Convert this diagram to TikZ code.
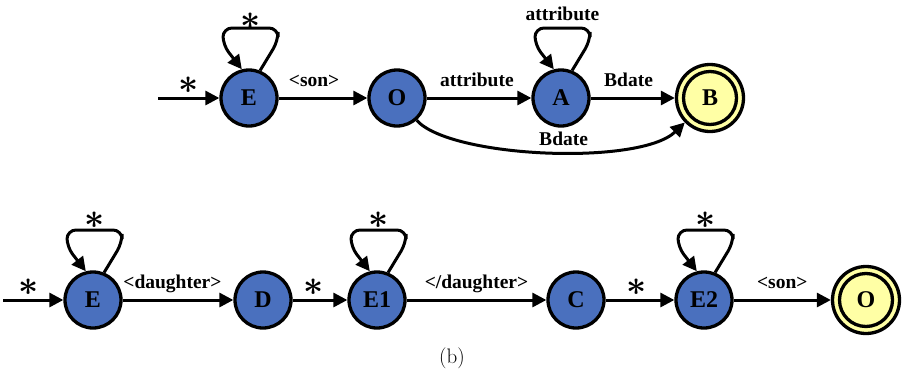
\documentclass[tikz,border=0pt]{standalone}
\usepackage{fontspec}
\newfontfamily\tnr{Liberation Serif}
\usetikzlibrary{arrows.meta,calc}
\definecolor{nodeblue}{RGB}{74,112,190}
\definecolor{nodeyellow}{RGB}{255,255,165}
\tikzset{
  st/.style={circle, draw, line width=3.3pt, fill=nodeblue, minimum size=56pt, inner sep=0pt,
    font=\tnr\bfseries\fontsize{24}{24}\selectfont},
  fin/.style={circle, draw, line width=3.3pt, fill=nodeyellow, minimum size=67pt, inner sep=0pt,
    font=\tnr\bfseries\fontsize{24}{24}\selectfont},
  edge/.style={line width=3pt, -{Triangle[length=14pt,width=14pt]}},
  lbl/.style={font=\tnr\bfseries\fontsize{19.5}{19.5}\selectfont, inner sep=0pt, anchor=base, yshift=12pt},
  ast/.style={inner sep=0pt},
}
\newcommand\mystar{\scalebox{3.5}{\boldmath$\ast$}}
\begin{document}
\begin{tikzpicture}[x=1pt,y=-1pt]
\useasboundingbox (0,0) rectangle (902,378);
% top row
\node[st] (E) at (249,98) {E};
\node[st] (O) at (397,98) {O};
\node[st] (A) at (561,98) {A};
\node[fin] (B) at (710,98) {B};
\draw[line width=3.3pt] (B) circle (26.5pt);
\coordinate (s1) at (158,98);
\draw[edge] (s1) -- node[ast, above=3pt]{\mystar} (E);
\draw[edge] (E) -- node[lbl, pos=0.4]{<son>} (O);
\draw[edge] (O) -- node[lbl, pos=0.48]{attribute} (A);
\draw[edge] (A) -- node[lbl, pos=0.45]{Bdate} (B);
\draw[edge] (O) .. controls (450,158) and (640,166) .. node[lbl, pos=0.55, yshift=-6pt]{Bdate} (B);
% self loops top
\draw[edge, rounded corners=9pt] (E.68) -- ($(E)+(29,-57)$) -- ($(E)+(29,-70)$)
    -- node[ast, above=-3pt]{\mystar} ($(E)+(-26,-70)$) -- ($(E)+(-26,-53)$) -- (E.104);
\draw[edge, rounded corners=9pt] (A.68) -- ($(A)+(29,-57)$) -- ($(A)+(29,-70)$)
    -- node[font=\tnr\bfseries\fontsize{19.5}{19.5}\selectfont, inner sep=0pt, above=6pt]{attribute} ($(A)+(-26,-70)$) -- ($(A)+(-26,-53)$) -- (A.104);
% bottom row
\node[st] (E0) at (93,300) {E};
\node[st] (D) at (263,300) {D};
\node[st] (E1) at (377,300) {E1};
\node[st] (C) at (576,300) {C};
\node[st] (E2) at (704,300) {E2};
\node[fin] (OF) at (866,300) {O};
\draw[line width=3.3pt] (OF) circle (26.5pt);
\coordinate (s2) at (3,300);
\draw[edge] (s2) -- node[ast, above=3pt, pos=0.43]{\mystar} (E0);
\draw[edge] (E0) -- node[lbl, pos=0.45]{<daughter>} (D);
\draw[edge] (D) -- node[ast, above=3pt, pos=0.38]{\mystar} (E1);
\draw[edge] (E1) -- node[lbl, pos=0.5]{</daughter>} (C);
\draw[edge] (C) -- node[ast, above=3pt, pos=0.45]{\mystar} (E2);
\draw[edge] (E2) -- node[lbl, pos=0.5]{<son>} (OF);
\foreach \n in {E0,E1,E2}{
\draw[edge, rounded corners=9pt] (\n.68) -- ($(\n)+(29,-57)$) -- ($(\n)+(29,-70)$)
    -- node[ast, above=0pt]{\mystar} ($(\n)+(-26,-70)$) -- ($(\n)+(-26,-53)$) -- (\n.104);
}
\node[font=\fontsize{21}{21}\selectfont] (cap) at (452,358) {(b)};
\end{tikzpicture}
\end{document}
